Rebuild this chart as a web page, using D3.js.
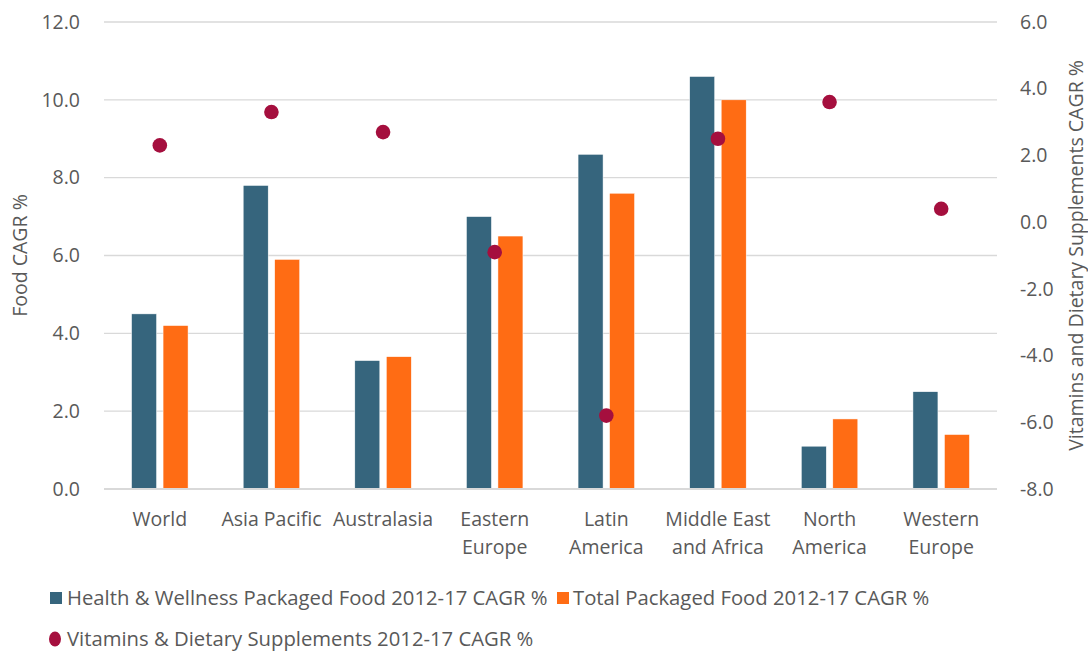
<!DOCTYPE html>
<html><head><meta charset="utf-8">
<script src="https://cdn.jsdelivr.net/npm/d3@7"></script>
<style>body{margin:0;background:#fff}svg{display:block;font-family:"Open Sans",sans-serif}</style>
</head><body><svg id="c" width="1088" height="652"></svg>
<script>
const categories = [["World"],["Asia Pacific"],["Australasia"],["Eastern","Europe"],["Latin","America"],["Middle East","and Africa"],["North","America"],["Western","Europe"]];
const healthWellness = [4.5,7.8,3.3,7.0,8.6,10.6,1.1,2.5];
const totalPackaged = [4.2,5.9,3.4,6.5,7.6,10.0,1.8,1.4];
const vitamins = [2.3,3.3,2.7,-0.9,-5.8,2.5,3.6,0.4];
const leftTicks = [0,2,4,6,8,10,12];
const rightTicks = [-8,-6,-4,-2,0,2,4,6];
const seriesNames = ["Health & Wellness Packaged Food 2012-17 CAGR %","Total Packaged Food 2012-17 CAGR %","Vitamins & Dietary Supplements 2012-17 CAGR %"];
const colors = ["#36657D","#FF6C14","#A50F3E"];

const svg = d3.select("#c");
const L=104, R=997, T=22, B=489;
const FS=19.5, LFS=20.3;
const x = d3.scaleBand().domain(d3.range(categories.length)).range([L,R]);
const yL = d3.scaleLinear().domain([0,12]).range([B,T]);
const yR = d3.scaleLinear().domain([-8,6]).range([B,T]);
const textCol="#595959";
const fmt = d => d3.format(".1f")(d).replace("\u2212","-");

// grid
svg.append("g").selectAll("line").data(leftTicks.filter(d=>d>0)).join("line")
  .attr("x1",L).attr("x2",R).attr("y1",d=>yL(d)).attr("y2",d=>yL(d))
  .attr("stroke","#d9d9d9").attr("stroke-width",1.3);

const bw=25, gap=6.5;
const g = svg.append("g");
g.selectAll("rect.h").data(healthWellness).join("rect").attr("class","h")
  .attr("x",(d,i)=>x(i)+x.bandwidth()/2-gap/2-bw).attr("width",bw)
  .attr("y",d=>yL(d)).attr("height",d=>yL(0)-yL(d))
  .attr("fill",colors[0]).attr("stroke","#fff").attr("stroke-width",0.5);
g.selectAll("rect.t").data(totalPackaged).join("rect").attr("class","t")
  .attr("x",(d,i)=>x(i)+x.bandwidth()/2+gap/2).attr("width",bw)
  .attr("y",d=>yL(d)).attr("height",d=>yL(0)-yL(d))
  .attr("fill",colors[1]).attr("stroke","#fff").attr("stroke-width",0.5);

// baseline
svg.append("line").attr("x1",L).attr("x2",R).attr("y1",B).attr("y2",B).attr("stroke","#d9d9d9").attr("stroke-width",2);

// dots
svg.append("g").selectAll("circle").data(vitamins).join("circle")
  .attr("cx",(d,i)=>x(i)+x.bandwidth()/2).attr("cy",d=>yR(d)).attr("r",7.3).attr("fill",colors[2]);

// left axis
const la = svg.append("g").attr("transform",`translate(${L-21},0)`)
  .call(d3.axisLeft(yL).tickValues(leftTicks).tickFormat(fmt).tickSize(0));
la.select(".domain").remove();
la.selectAll("text").attr("fill",textCol).attr("font-size",FS).attr("font-family","'Open Sans',sans-serif");
// right axis
const ra = svg.append("g").attr("transform",`translate(${R+20},0)`)
  .call(d3.axisRight(yR).tickValues(rightTicks).tickFormat(fmt).tickSize(0));
ra.select(".domain").remove();
ra.selectAll("text").attr("fill",textCol).attr("font-size",FS).attr("font-family","'Open Sans',sans-serif");

// axis titles
svg.append("text").attr("transform",`translate(27,${(T+B)/2}) rotate(-90)`).attr("text-anchor","middle")
  .attr("fill",textCol).attr("font-size",FS).text("Food CAGR %");
svg.append("text").attr("transform",`translate(1083,${(T+B)/2}) rotate(-90)`).attr("text-anchor","middle")
  .attr("fill",textCol).attr("font-size",FS).text("Vitamins and Dietary Supplements CAGR  %");

// category labels
const cl = svg.append("g").selectAll("text").data(categories).join("text")
  .attr("text-anchor","middle").attr("fill",textCol).attr("font-size",FS)
  .attr("transform",(d,i)=>`translate(${x(i)+x.bandwidth()/2},526)`);
cl.selectAll("tspan").data(d=>d).join("tspan").attr("x",0).attr("dy",(d,j)=>j===0?0:28).text(d=>d);

// legend
const lg = svg.append("g").attr("fill",textCol).attr("font-size",LFS);
lg.append("rect").attr("x",50).attr("y",592).attr("width",12).attr("height",12).attr("fill",colors[0]);
lg.append("text").attr("x",67).attr("y",605).text(seriesNames[0]);
lg.append("rect").attr("x",557).attr("y",592).attr("width",12).attr("height",12).attr("fill",colors[1]);
lg.append("text").attr("x",573).attr("y",605).text(seriesNames[1]);
lg.append("ellipse").attr("cx",55).attr("cy",639).attr("rx",6).attr("ry",7.5).attr("fill",colors[2]);
lg.append("text").attr("x",67).attr("y",646).text(seriesNames[2]);
</script></body></html>
